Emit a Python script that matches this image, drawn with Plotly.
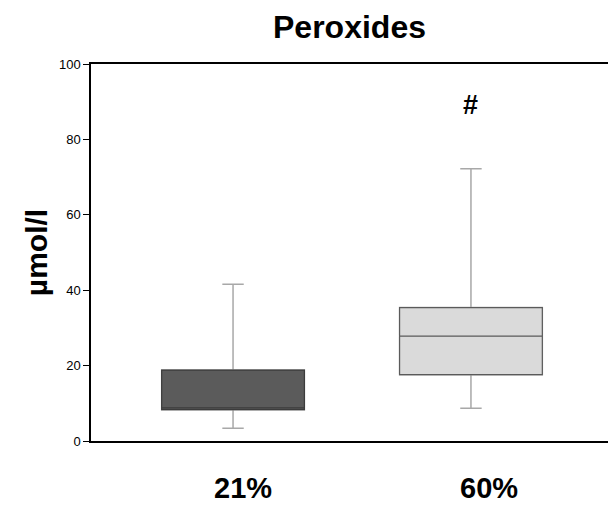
import plotly.graph_objects as go

# Peroxide concentrations (µmol/l) by oxygen group
groups = ["21%", "60%"]
q1 = [8.3, 17.6]
median = [8.8, 27.8]
q3 = [18.8, 35.4]
lower_whisker = [3.4, 8.7]
upper_whisker = [41.6, 72.2]
fills = ["#5b5b5b", "#dadada"]
outlines = ["#3c3c3c", "#5a5a5a"]
significance = ["", "#"]
sig_y = [None, 89]
label_shift = [10, 18]

xpos = list(range(len(groups)))

fig = go.Figure()

for i, g in enumerate(groups):
    # whiskers (light grey)
    fig.add_trace(go.Box(
        x=[xpos[i]], q1=[q1[i]], median=[median[i]], q3=[q3[i]],
        lowerfence=[lower_whisker[i]], upperfence=[upper_whisker[i]],
        fillcolor=fills[i], line=dict(color="#a8a8a8", width=1.5),
        width=0.6, whiskerwidth=0.15, boxpoints=False,
        showlegend=False, hoverinfo="skip",
    ))
    # box body with darker outline and median
    fig.add_trace(go.Box(
        x=[xpos[i]], q1=[q1[i]], median=[median[i]], q3=[q3[i]],
        lowerfence=[q1[i]], upperfence=[q3[i]],
        fillcolor=fills[i], line=dict(color=outlines[i], width=1.2),
        width=0.6, whiskerwidth=0, boxpoints=False,
        showlegend=False,
    ))
    # group label under the axis, resting on the bottom edge of the page
    fig.add_annotation(x=xpos[i], xshift=label_shift[i], y=0, yref="paper",
                       yshift=-64, yanchor="bottom", text=f"<b>{g}</b>",
                       showarrow=False, borderpad=0,
                       font=dict(family="Liberation Sans, Arial", size=29, color="black"))

for i, s in enumerate(significance):
    if s:
        fig.add_annotation(x=xpos[i], y=sig_y[i], text=f"<b>{s}</b>", showarrow=False,
                           font=dict(family="Liberation Sans, Arial", size=27,
                                     color="black"))

fig.update_layout(
    width=609, height=506,
    margin=dict(l=91, r=1, t=64, b=65),
    paper_bgcolor="white", plot_bgcolor="white",
    boxmode="overlay",
    font=dict(family="Liberation Sans, Arial", color="black"),
    title=dict(text="<b>Peroxides</b>", x=(91 + 608) / 2 / 609, xanchor="center",
               y=1 - 27 / 506, yanchor="middle",
               font=dict(size=32, color="black")),
    xaxis=dict(
        range=[-0.597, 1.576], tickvals=xpos, showticklabels=False,
        ticks="", showgrid=False,
        zeroline=False, showline=True, linecolor="black", linewidth=1.5,
        mirror=True, automargin=False,
    ),
    yaxis=dict(
        range=[0, 100], tickvals=[0, 20, 40, 60, 80, 100],
        tickfont=dict(size=13, color="black"), ticks="outside", ticklen=6,
        tickcolor="black", tickwidth=1, showgrid=False, zeroline=False,
        showline=True, linecolor="black", linewidth=1.5, automargin=False,
        title=dict(text="<b>µmol/l</b>", font=dict(size=30, color="black"), standoff=2),
    ),
)

fig.write_html("out.html")
